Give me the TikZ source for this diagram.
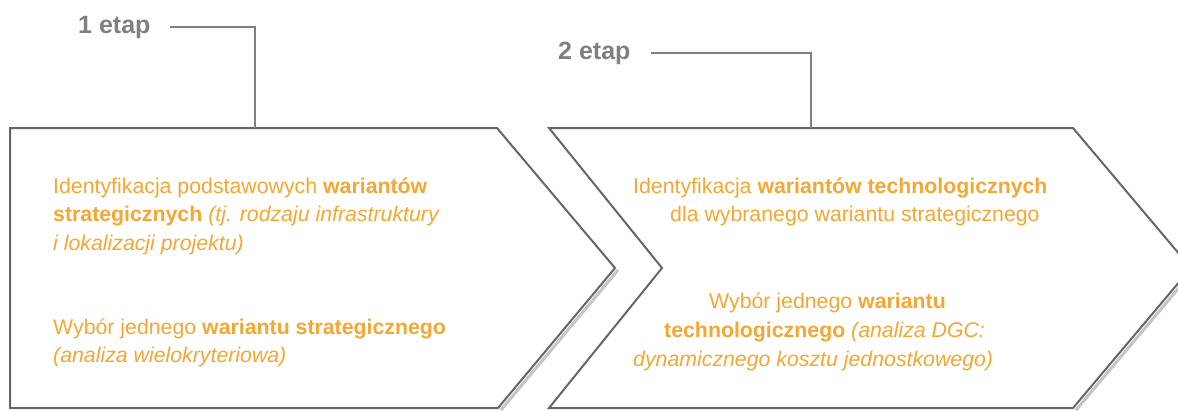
\documentclass[tikz,border=0pt]{standalone}
\usepackage{fontspec}
\setmainfont{Liberation Sans}
\definecolor{txt}{HTML}{F5A733}
\definecolor{edgec}{HTML}{666666}
\definecolor{lblc}{HTML}{808080}
\definecolor{shd}{HTML}{C4C4C4}
\tikzset{
  outline/.style={draw=edgec, line width=2pt, line join=miter, fill=white},
  shadowline/.style={draw=shd, line width=3pt},
  conn/.style={draw=lblc, line width=1.5pt},
  stage/.style={font=\fontsize{25}{29}\selectfont\bfseries, text=lblc, inner sep=0pt, anchor=base west},
  body/.style={font=\fontsize{21.3}{25}\selectfont, text=txt, inner sep=0pt, anchor=base west},
}
\begin{document}
\begin{tikzpicture}[x=1pt,y=-1pt]
\useasboundingbox (0,0) rectangle (1178,410);
\clip (0,0) rectangle (1178,410);
% shadows
\draw[shadowline] (618,270) -- (501,410);
\draw[shadowline] (1194,270) -- (1076,410);
% shapes
\path[outline] (10,128) -- (497,128) -- (615,268) -- (498,408) -- (10,408) -- cycle;
\path[outline] (549,128) -- (1073,128) -- (1191,268) -- (1073,408) -- (549,408) -- (662,268) -- cycle;
% stage labels
\node[stage] (l1) at (78,33) {1 etap};
\node[stage] (l2) at (558,59) {2 etap};
\coordinate (c1) at (255,128);
\coordinate (c2) at (811,128);
\draw[conn] ([xshift=19pt]l1.east) -| (c1);
\draw[conn] ([xshift=20pt]l2.east) -| (c2);
% body text, stage 1
\node[body] (a1) at (53,193) {Identyfikacja podstawowych \textbf{wariantów}};
\node[body] (a2) at (53,221.5) {\textbf{strategicznych} \textit{(tj. rodzaju infrastruktury}};
\node[body] (a3) at (53,250) {\textit{i lokalizacji projektu)}};
\node[body] (a4) at (53,334) {Wybór jednego \textbf{wariantu strategicznego}};
\node[body] (a5) at (53,362.5) {\textit{(analiza wielokryteriowa)}};
% body text, stage 2
\node[body] (b1) at (633,193) {Identyfikacja \textbf{wariantów technologicznych}};
\node[body] (b2) at (670,221) {dla wybranego wariantu strategicznego};
\node[body] (b3) at (709,308) {Wybór jednego \textbf{wariantu}};
\node[body] (b4) at (664,337.5) {\textbf{technologicznego} \textit{(analiza DGC:}};
\node[body] (b5) at (633,366.5) {\textit{dynamicznego kosztu jednostkowego)}};
\end{tikzpicture}
\end{document}
